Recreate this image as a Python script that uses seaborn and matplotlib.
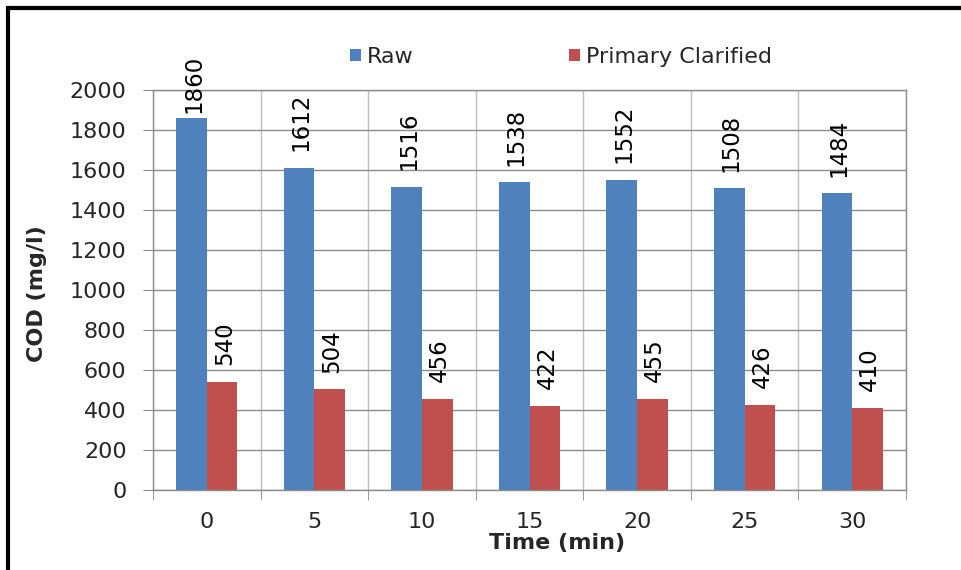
import matplotlib
matplotlib.use("Agg")
import matplotlib.pyplot as plt
import seaborn as sns
import pandas as pd
from matplotlib.patches import Rectangle, Patch
from matplotlib.ticker import FixedLocator

times = ["0", "5", "10", "15", "20", "25", "30"]
raw = [1860, 1612, 1516, 1538, 1552, 1508, 1484]
primary = [540, 504, 456, 422, 455, 426, 410]
series_names = ["Raw", "Primary Clarified"]
colors = ["#4F81BD", "#C0504D"]

df = pd.DataFrame({
    "Time": times * 2,
    "COD": raw + primary,
    "Series": [series_names[0]] * len(times) + [series_names[1]] * len(times),
})

sns.set_style("white")
plt.rcParams["font.family"] = ["DejaVu Sans"]

fig = plt.figure(figsize=(9.62, 5.70), dpi=100)
ax = fig.add_axes([153 / 962, 1 - 490 / 570, (906 - 153) / 962, (490 - 90) / 570])

sns.barplot(data=df, x="Time", y="COD", hue="Series", hue_order=series_names,
            order=times, palette=colors, width=0.57, gap=0, ax=ax,
            saturation=1, edgecolor="none", legend=False)

ax.set_ylim(0, 2000)
ax.set_yticks(range(0, 2001, 200))
ax.set_xlim(-0.5, len(times) - 0.5)
ax.xaxis.set_minor_locator(FixedLocator([i - 0.5 for i in range(len(times) + 1)]))
ax.grid(axis="y", color="#8c8c8c", linewidth=1)
ax.grid(axis="x", which="minor", color="#bfbfbf", linewidth=1)
ax.set_axisbelow(True)

for s in ax.spines.values():
    s.set_color("#8c8c8c")
    s.set_linewidth(1)

ax.tick_params(axis="x", which="major", length=0, pad=16, labelsize=16)
ax.tick_params(axis="x", which="minor", length=7, color="#8c8c8c", bottom=True)
ax.tick_params(axis="y", length=7, color="#8c8c8c", pad=12, labelsize=16, left=True)

ax.set_xlabel("Time (min)", fontsize=16, fontweight="bold")
ax.xaxis.set_label_coords((557 - 153) / 753, -0.108)
ax.set_ylabel("COD (mg/l)", fontsize=16, fontweight="bold")
ax.yaxis.set_label_coords((47 - 153) / 753, 0.49)

labels = []
for cont in ax.containers:
    labels += ax.bar_label(cont, rotation=90, padding=12, fontsize=16.5, color="black")

# keep value labels inside the frame: push down labels that would rise too high
fig.canvas.draw()
renderer = fig.canvas.get_renderer()
top_limit_px = fig.bbox.height - 55
for lab in labels:
    ext = lab.get_window_extent(renderer)
    x0, y0 = lab.xyann
    if ext.y1 > top_limit_px:
        shift_pt = (ext.y1 - top_limit_px) * 72 / fig.dpi
        y0 = max(2, y0 - shift_pt)
    lab.xyann = (x0 + 1.5, y0)

handles = [Patch(facecolor=c, edgecolor="none") for c in colors]
fig.legend(handles, series_names, loc="center", bbox_to_anchor=(0.583, 0.9),
           ncol=2, frameon=False, fontsize=16, handlelength=0.5, handleheight=0.5,
           handletextpad=0.25, columnspacing=7)

fig.patches.append(Rectangle((8 / 962, -0.2), 1.3, 1.2 - 8 / 570, transform=fig.transFigure,
                             fill=False, edgecolor="black", linewidth=3, zorder=10))

fig.savefig("out.png", dpi=100)
